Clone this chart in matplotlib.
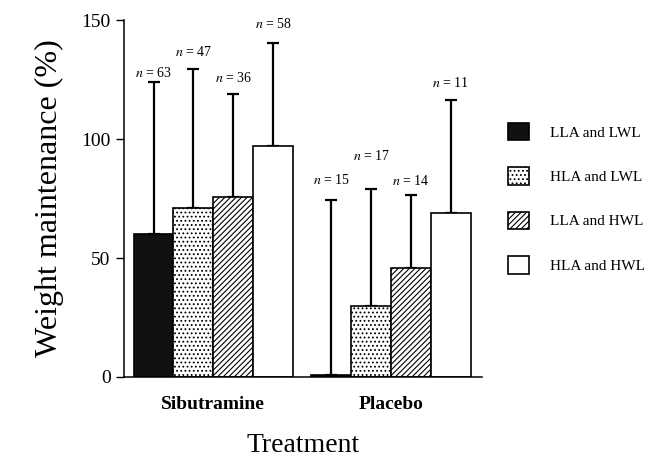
import numpy as np
import matplotlib
matplotlib.use('Agg')
import matplotlib.pyplot as plt
from matplotlib.patches import Patch

plt.rcParams['font.family'] = ['Liberation Serif', 'DejaVu Serif']
plt.rcParams['mathtext.fontset'] = 'stix'
plt.rcParams['hatch.linewidth'] = 0.8

# data
treatments = ['Sibutramine', 'Placebo']
groups = ['LLA and LWL', 'HLA and LWL', 'LLA and HWL', 'HLA and HWL']
sib_mean = [60, 71, 75.5, 97]
sib_err = [64, 58.5, 43.5, 43.5]
plc_mean = [1, 30, 46, 69]
plc_err = [73.5, 49, 30.5, 47.5]
sib_n = [63, 47, 36, 58]
plc_n = [15, 17, 14, 11]

# where the n = labels sit (data units)
sib_label_y = [127.7, 136.7, 125.5, 148.3]
plc_label_y = [83, 92.9, 82.5, 123.7]

colors = ['#111111', 'white', 'white', 'white']
hatches = [None, '....', '//////', None]

fig = plt.figure(figsize=(6.58, 4.58), dpi=100)
ax = fig.add_axes([0.188, 0.177, 0.545, 0.779])

means = np.array([sib_mean, plc_mean])
errs = np.array([sib_err, plc_err])
ns = [sib_n, plc_n]
label_y = [sib_label_y, plc_label_y]
w = 0.224
centers = np.arange(len(treatments))

for i in range(len(groups)):
    x = centers + (i - 1.5) * w
    ax.bar(x, means[:, i], width=w, color=colors[i], hatch=hatches[i],
           edgecolor='black', linewidth=1.2, zorder=2)
    ax.errorbar(x, means[:, i], yerr=[np.zeros(2), errs[:, i]], fmt='none',
                ecolor='black', elinewidth=1.6, capsize=4, capthick=1.6, zorder=1)
    for j in range(len(treatments)):
        ax.text(x[j], label_y[j][i], r'$\it{n}$ = %d' % ns[j][i],
                ha='center', va='center', fontsize=10)

ax.set_xlim(-0.504, 1.513)
ax.set_ylim(0, 150)
ax.set_yticks([0, 50, 100, 150])
ax.set_xticks(centers)
ax.set_xticklabels(treatments, fontweight='bold', fontsize=14)
ax.tick_params(axis='x', length=0, pad=14)
ax.tick_params(axis='y', length=6, width=1, labelsize=14, direction='out')
for s in ['top', 'right']:
    ax.spines[s].set_visible(False)
for s in ['left', 'bottom']:
    ax.spines[s].set_linewidth(1.1)

ax.set_ylabel('Weight maintenance (%)', fontsize=23, labelpad=12)
ax.set_xlabel('Treatment', fontsize=20, labelpad=14)

handles = [Patch(facecolor=colors[i], hatch=hatches[i], edgecolor='black',
                 linewidth=1.2) for i in range(len(groups))]
fig.legend(handles, groups, loc='upper left', bbox_to_anchor=(0.772, 0.732),
           bbox_transform=fig.transFigure, frameon=False, fontsize=11,
           handlelength=1.4, handleheight=1.4, labelspacing=1.75,
           handletextpad=1.35, borderpad=0, borderaxespad=0)

fig.savefig('out.png', dpi=100)
